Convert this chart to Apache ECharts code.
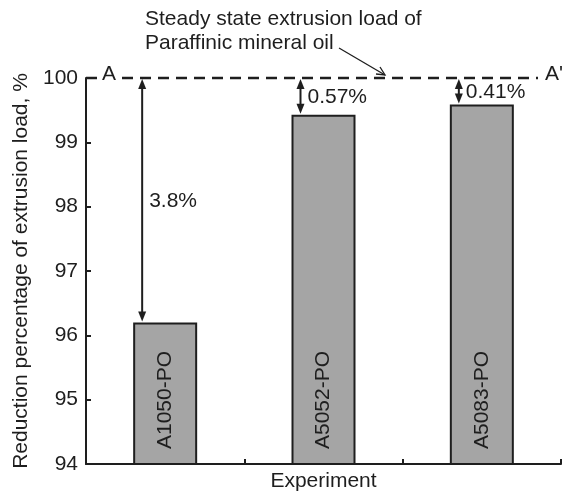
<!DOCTYPE html>
<html><head><meta charset="utf-8">
<script src="https://cdn.jsdelivr.net/npm/echarts@6/dist/echarts.min.js"></script>
<style>html,body{margin:0;padding:0;background:#fff}#c{width:572px;height:491px}</style>
</head><body><div id="c"></div>
<script>
const categories = ['A1050-PO', 'A5052-PO', 'A5083-PO'];
const values = [96.2, 99.43, 99.59];
const reference = 100;
const gapLabels = ['3.8%', '0.57%', '0.41%'];
const yTicks = { min: 94, max: 100, interval: 1 };

const FONT = 'Liberation Sans, Arial, sans-serif';
const FS = 21;
const INK = '#1e1e1e';
const chart = echarts.init(document.getElementById('c'), null, { renderer: 'canvas' });

function tri(x, yTip, dir) {
  return [[x, yTip], [x - 4, yTip - dir * 10], [x + 4, yTip - dir * 10]];
}

chart.setOption({
  animation: false,
  grid: { left: 86, right: 11, top: 78, bottom: 27, containLabel: false, outerBoundsMode: 'none' },
  xAxis: {
    type: 'category', data: categories,
    name: 'Experiment', nameLocation: 'middle', nameGap: 7,
    nameTextStyle: { fontFamily: FONT, fontSize: FS, color: INK },
    axisLine: { lineStyle: { color: INK, width: 2 } },
    axisTick: { show: true, inside: true, length: 5, lineStyle: { color: INK, width: 2 } },
    axisLabel: { show: false }
  },
  yAxis: {
    type: 'value', min: yTicks.min, max: yTicks.max, interval: yTicks.interval,
    name: 'Reduction percentage of extrusion load, %', nameLocation: 'middle', nameGap: 44,
    nameTextStyle: { fontFamily: FONT, fontSize: FS, color: INK },
    axisLine: { show: true, lineStyle: { color: INK, width: 2 } },
    axisTick: { show: true, inside: true, length: 5, lineStyle: { color: INK, width: 2 } },
    axisLabel: { fontFamily: FONT, fontSize: FS, color: INK, margin: 8 },
    splitLine: { show: false }
  },
  series: [
    {
      type: 'bar', data: values, barWidth: 64,
      itemStyle: { color: '#a5a5a5', borderColor: INK, borderWidth: 2 },
      label: {
        show: true, position: 'insideBottom', distance: 16, rotate: 90,
        align: 'left', verticalAlign: 'middle',
        formatter: p => categories[p.dataIndex],
        fontFamily: FONT, fontSize: FS, color: INK
      },
      markLine: {
        silent: true, symbol: 'none',
        label: { show: false },
        lineStyle: { type: [11, 7], color: INK, width: 2.4 },
        data: [{ yAxis: reference }]
      }
    },
    {
      type: 'custom',
      data: values.map((v, i) => [i, v]),
      renderItem: function (params, api) {
        const i = api.value(0), v = api.value(1);
        const top = api.coord([i, reference]);
        const bot = api.coord([i, v]);
        const x = top[0] - 23;
        const y1 = top[1] + 1, y2 = bot[1] - 1;
        return {
          type: 'group',
          children: [
            { type: 'line', shape: { x1: x, y1: y1 + 6, x2: x, y2: y2 - 6 }, style: { stroke: INK, lineWidth: 2 } },
            { type: 'polygon', shape: { points: tri(x, y1, -1) }, style: { fill: INK } },
            { type: 'polygon', shape: { points: tri(x, y2, 1) }, style: { fill: INK } },
            { type: 'text', x: x + 7, y: (y1 + y2) / 2 + 1,
              style: { text: gapLabels[i], fontFamily: FONT, fontSize: FS, fill: INK, verticalAlign: 'middle', align: 'left' } }
          ]
        };
      },
      z: 5
    }
  ],
  graphic: [
    { type: 'text', left: 145, top: 9, style: { text: 'Steady state extrusion load of', fontFamily: FONT, fontSize: FS, fill: INK } },
    { type: 'text', left: 145, top: 33, style: { text: 'Paraffinic mineral oil', fontFamily: FONT, fontSize: FS, fill: INK } },
    { type: 'line', shape: { x1: 339, y1: 48, x2: 385, y2: 75 }, style: { stroke: INK, lineWidth: 1.3 } },
    { type: 'polyline', shape: { points: [[376, 74], [385, 75], [380, 67]] }, style: { stroke: INK, lineWidth: 1.3, fill: null } },
    { type: 'text', left: 99, top: 64, z: 10, style: { text: 'A', fontFamily: FONT, fontSize: FS, fill: INK, backgroundColor: '#fff', padding: [0, 3, 0, 3] } },
    { type: 'text', left: 538, top: 64, z: 10, style: { text: "A'", fontFamily: FONT, fontSize: FS, fill: INK, backgroundColor: '#fff', padding: [0, 4, 0, 7] } }
  ]
});
</script></body></html>
